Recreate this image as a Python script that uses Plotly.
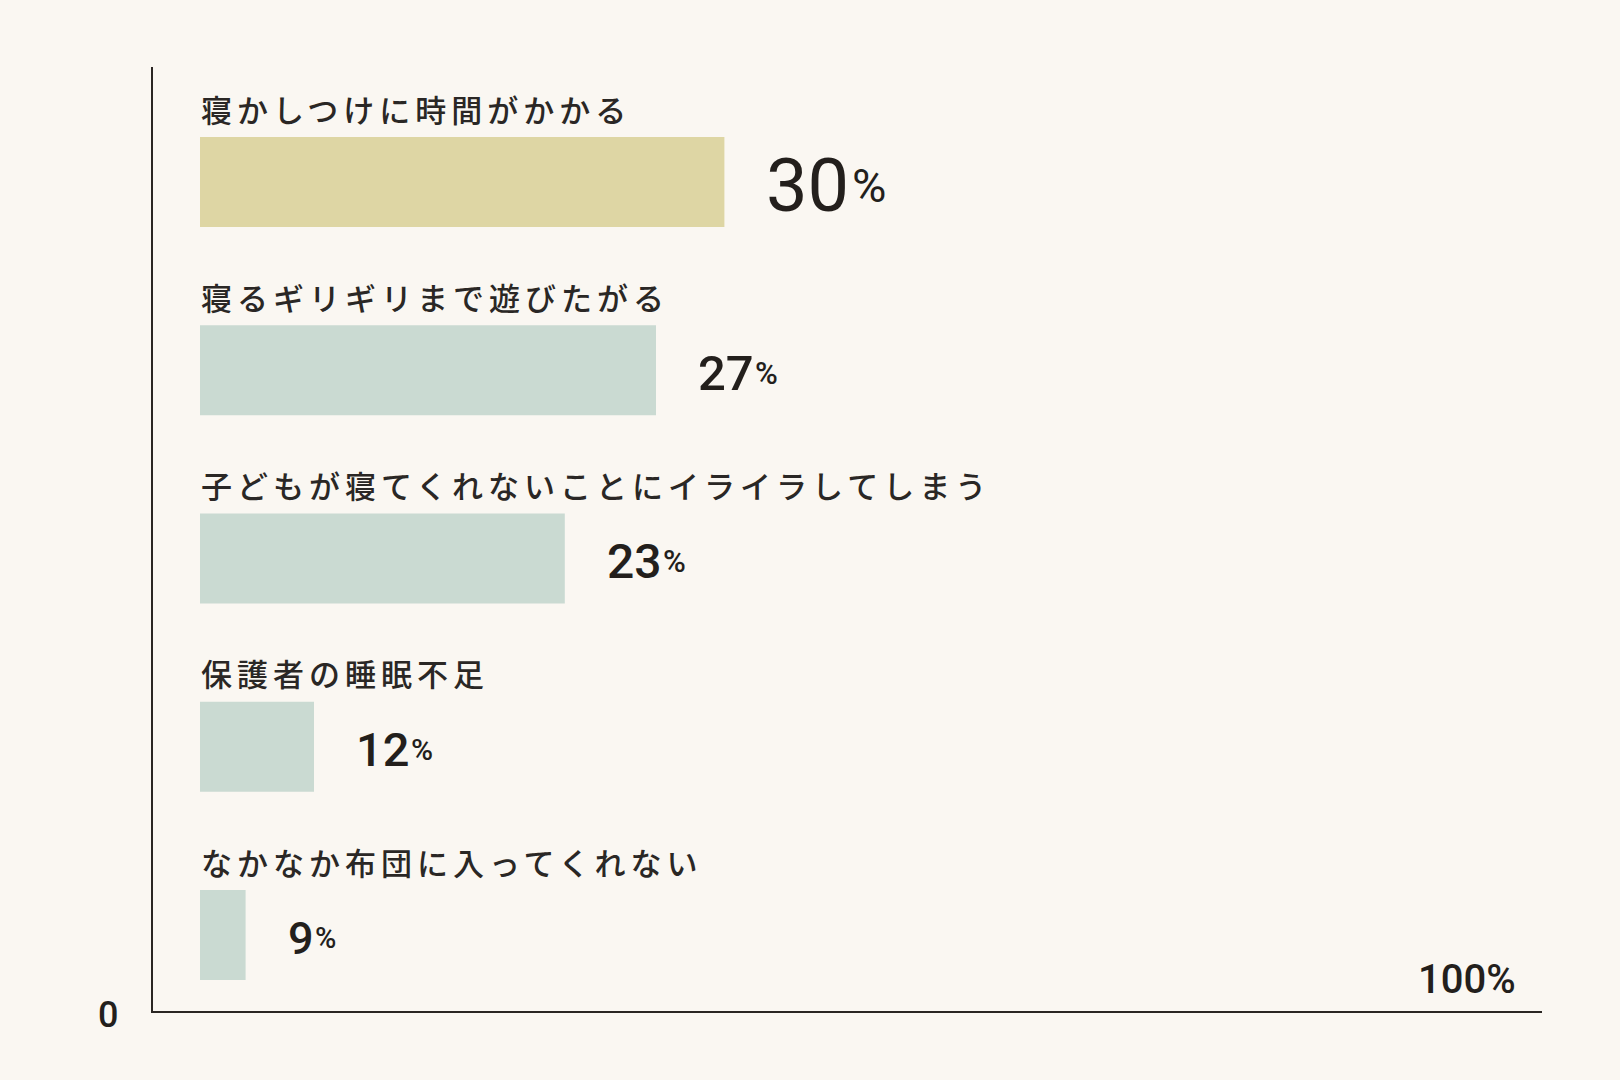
import plotly.graph_objects as go

# data
categories = [
    "寝かしつけに時間がかかる",
    "寝るギリギリまで遊びたがる",
    "子どもが寝てくれないことにイライラしてしまう",
    "保護者の睡眠不足",
    "なかなか布団に入ってくれない",
]
values = [30, 27, 23, 12, 9]
axis_min_label = "0"
axis_max_label = "100%"

# style
BG = "#FAF7F2"
HIGHLIGHT = "#DED6A4"
BAR = "#CADAD2"
INK = "#231f1c"
LABEL_INK = "#2a2725"
BAR_BASE = 7          # the infographic bars are not drawn to scale
PX_PER_UNIT = 22.8
BAR_LEFT_PX = 200
PLOT_L, PLOT_R, PLOT_T, PLOT_B = 153, 1542, 67, 1011
ROW_PX = 188.25
FIRST_ROW_PX = 182

x_range = [BAR_BASE - (BAR_LEFT_PX - PLOT_L) / PX_PER_UNIT,
           BAR_BASE + (PLOT_R - BAR_LEFT_PX) / PX_PER_UNIT]
y_top = -(FIRST_ROW_PX - PLOT_T) / ROW_PX
y_range = [y_top + (PLOT_B - PLOT_T) / ROW_PX, y_top]

num_sizes = [74, 49, 48, 47, 45]
num_weights = [400, 500, 500, 500, 500]
pct_ratio = 0.64

fig = go.Figure()
fig.add_trace(go.Bar(
    x=[v - BAR_BASE for v in values],
    base=BAR_BASE,
    y=categories,
    orientation="h",
    width=90 / ROW_PX,
    marker=dict(color=[HIGHLIGHT] + [BAR] * (len(values) - 1), line=dict(width=0)),
    hoverinfo="skip",
))

annotations = []
for i, (cat, v) in enumerate(zip(categories, values)):
    # category label above the bar
    annotations.append(dict(
        x=BAR_BASE, y=cat, xref="x", yref="y", text=cat,
        xanchor="left", yanchor="middle", align="left", showarrow=False,
        xshift=-1, yshift=74,
        font=dict(family="Noto Sans CJK JP", size=31, color=LABEL_INK, weight=500),
    ))
    fs = num_sizes[i]
    num = str(v)
    annotations.append(dict(
        x=v, y=cat, xref="x", yref="y", text=num,
        xanchor="left", yanchor="middle", align="left", showarrow=False,
        xshift=40, yshift=-3,
        font=dict(family="Roboto", size=fs, color=INK, weight=num_weights[i]),
    ))
    annotations.append(dict(
        x=v, y=cat, xref="x", yref="y", text="%",
        xanchor="left", yanchor="middle", align="left", showarrow=False,
        xshift=40 + len(num) * 0.5615 * fs + 2, yshift=-3,
        font=dict(family="Roboto", size=round(fs * pct_ratio), color=INK, weight=num_weights[i]),
    ))

annotations.append(dict(
    x=0, y=0, xref="paper", yref="paper", text=axis_min_label,
    xanchor="center", yanchor="middle", showarrow=False,
    xshift=-45, yshift=-4,
    font=dict(family="Roboto", size=36, color=INK, weight=500),
))
annotations.append(dict(
    x=1, y=0, xref="paper", yref="paper", text=axis_max_label,
    xanchor="right", yanchor="middle", showarrow=False,
    xshift=-24, yshift=32,
    font=dict(family="Roboto", size=40, color=INK, weight=500),
))

fig.update_layout(
    width=1620, height=1080,
    margin=dict(l=PLOT_L, r=1620 - PLOT_R, t=PLOT_T, b=1080 - PLOT_B),
    paper_bgcolor=BG, plot_bgcolor=BG,
    showlegend=False,
    annotations=annotations,
    xaxis=dict(range=x_range, showgrid=False, zeroline=False, showticklabels=False,
               ticks="", showline=True, linecolor="#2a2623", linewidth=2),
    yaxis=dict(type="category", categoryorder="array", categoryarray=categories,
               range=y_range, showgrid=False, zeroline=False, showticklabels=False,
               ticks="", showline=True, linecolor="#2a2623", linewidth=2),
)

# wider letter spacing on the Japanese labels, and no body margin
post = """
document.body.style.margin = '0';
document.querySelectorAll('.annotation-text').forEach(function (t) {
  if (/[^\\x00-\\x7F]/.test(t.textContent)) { t.style.letterSpacing = '5px'; }
});
"""
fig.write_html("out.html", config={"displayModeBar": False}, post_script=post)
